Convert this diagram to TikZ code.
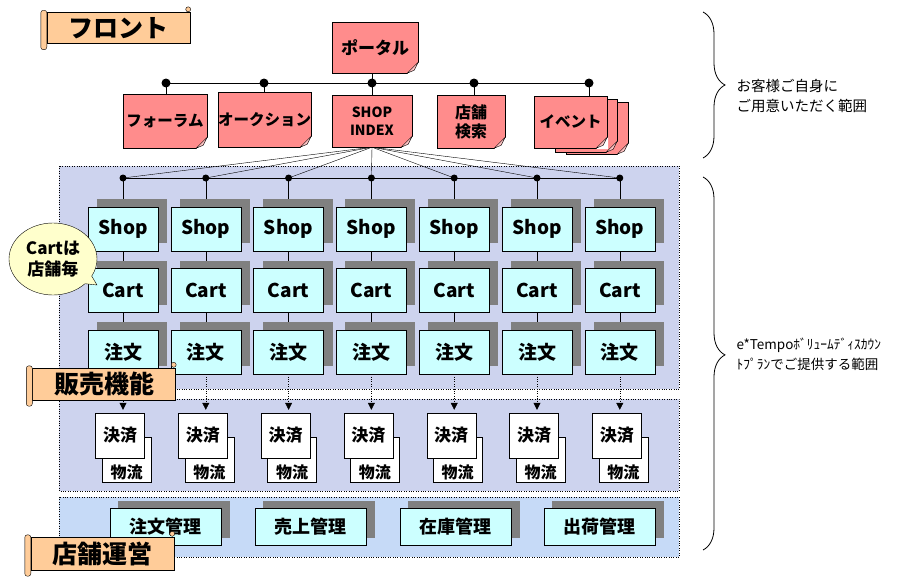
\documentclass[tikz,border=0pt]{standalone}
\usepackage{fontspec}
\newfontfamily\jp{Noto Sans CJK JP}
\usetikzlibrary{shadows,shapes.callouts,arrows.meta,decorations.pathreplacing}
\definecolor{notepink}{HTML}{FF8C8C}
\definecolor{foldpink}{HTML}{FFC4C4}
\definecolor{scroll}{HTML}{FFCC99}
\definecolor{boxcyan}{HTML}{CCFFFF}
\definecolor{shade}{HTML}{808080}
\definecolor{memo}{HTML}{FFFFCC}
\definecolor{dotblue}{HTML}{CDD3EE}
\definecolor{dotsky}{HTML}{C6DAF7}
\pgfdeclarelayer{back}
\pgfdeclarelayer{wires}
\pgfsetlayers{back,wires,main}

% curled corner of a pink note
\newcommand\notefold[2]{%
  \fill[#2] ([xshift=1pt,yshift=-1pt]#1.south east) -- ([xshift=-11pt,yshift=-1pt]#1.south east)
    -- ([xshift=1pt,yshift=11pt]#1.south east) -- cycle;
  \filldraw[fill=foldpink] ([xshift=-11pt]#1.south east) -- ([yshift=11pt]#1.south east)
    -- ([xshift=-4pt,yshift=3pt]#1.south east) -- cycle;
}

\tikzset{
  note/.style={draw, fill=notepink, inner sep=0pt, align=center,
    font=\jp\bfseries\fontsize{15.5}{18}\selectfont},
  unit/.style={draw, fill=boxcyan, inner sep=0pt, minimum width=70pt, minimum height=44pt,
    font=\jp\bfseries\fontsize{19}{22}\selectfont,
    general shadow={fill=shade, shadow xshift=9pt, shadow yshift=8pt}},
  mgmt/.style={unit, minimum width=111pt, minimum height=37pt,
    font=\jp\bfseries\fontsize{18}{22}\selectfont,
    general shadow={fill=shade, shadow xshift=8pt, shadow yshift=8pt}},
  slip/.style={draw, fill=white, inner sep=0pt, minimum width=49pt, minimum height=45pt,
    font=\jp\bfseries\fontsize{17}{20}\selectfont},
  banner/.style={draw, fill=scroll, inner sep=0pt, minimum width=143pt, minimum height=31pt,
    font=\jp\bfseries\fontsize{25}{28}\selectfont},
  brnote/.style={anchor=west, align=left},
  joint/.style={fill=black},
}

\begin{document}
\begin{tikzpicture}[x=1pt, y=-1pt, line width=0.9pt]
\useasboundingbox (0,0) rectangle (907,578);

% areas
\begin{pgfonlayer}{back}
\fill[white] (0,0) rectangle (907,578);
\filldraw[fill=dotblue, dotted] (59,166) rectangle (679,389);
\filldraw[fill=dotblue, dotted] (59,399) rectangle (679,491);
\filldraw[fill=dotsky, dotted] (59,497) rectangle (679,557);
\end{pgfonlayer}

% front pages
\node[note, minimum width=86pt, minimum height=51pt, font=\jp\bfseries\fontsize{17}{20}\selectfont] (portal) at (375,47.5) {ポータル};
\node[note, minimum width=84pt, minimum height=54pt] (forum) at (165,121) {フォーラム};
\node[note, minimum width=87pt, minimum height=55pt] (auction) at (264.5,119.5) {オークション};
\node[note, minimum width=80pt, minimum height=52pt, font=\jp\bfseries\fontsize{14}{18}\selectfont] (sidx) at (372,121) {SHOP\\INDEX};
\node[note, minimum width=68pt, minimum height=53pt, font=\jp\bfseries\fontsize{16}{19}\selectfont] (shopfind) at (471,121.5) {店舗\\検索};
\node[note, minimum width=62pt, minimum height=52pt] (eventc) at (597,128) {};
\notefold{eventc}{white}
\node[note, minimum width=62pt, minimum height=53pt] (eventb) at (586,125.5) {};
\notefold{eventb}{notepink}
\node[note, minimum width=73pt, minimum height=52pt] (event) at (570.5,122) {イベント};
\foreach \n in {portal,forum,auction,sidx,shopfind,event}{\notefold{\n}{white}}

\coordinate (t1) at (166,83);
\coordinate (t2) at (264,83);
\coordinate (t3) at (372,83);
\coordinate (t4) at (474,83);
\coordinate (t5) at (589,83);

% shop columns
\foreach \i in {1,...,7}{
  \pgfmathsetmacro\cx{123+82.8*(\i-1)}
  \coordinate (d\i) at (\cx,178);
  \node[unit] (shop\i) at (\cx,229) {Shop};
  \node[unit] (cart\i) at (\cx,290.5) {Cart};
  \node[unit] (chu\i) at (\cx,352) {注文};
  \node[slip, text height=41.5pt, text depth=3.5pt, font=\jp\bfseries\fontsize{16}{18}\selectfont] (but\i) at (\cx+3.5,459.5) {物流};
  \node[slip] (kes\i) at (\cx-3,435.5) {決済};
  \draw[dotted, -{Triangle[length=7pt,width=7pt]}, shorten >=3pt] (chu\i.south) -- (chu\i.south |- kes\i.north);
  \fill[joint] (d\i) circle (3.5pt);
}

% management
\node[mgmt] (mg1) at (165.5,527) {注文管理};
\node[mgmt] (mg2) at (310.5,527) {売上管理};
\node[mgmt] (mg3) at (455.5,527) {在庫管理};
\node[mgmt] (mg4) at (599.5,527) {出荷管理};

% connectors
\begin{pgfonlayer}{wires}
\draw (t1) -- (t5);
\draw (t3 |- portal.south) -- (t3);
\foreach \t/\n in {t1/forum,t2/auction,t3/sidx,t4/shopfind,t5/event}{
  \draw (\t) -- (\t |- \n.north);
}
\draw (d1) -- (d7);
\foreach \i in {1,...,7}{
  \draw (sidx.south) -- (d\i);
  \draw (d\i) -- (chu\i.center);
}
\end{pgfonlayer}
\foreach \t in {t1,t2,t3,t4,t5}{\fill[joint] (\t) circle (4.5pt);}

\node[ellipse callout, draw, fill=memo, minimum width=88pt, minimum height=72pt, inner sep=0pt,
  callout absolute pointer={(97,285)}, align=center,
  font=\jp\bfseries\fontsize{17}{21}\selectfont] (memo) at (53,259) {Cartは\\店舗毎};

% scrolls
\node[banner] (front) at (118.5,28) {フロント};
\node[banner, minimum height=32pt] (sales) at (104,384) {販売機能};
\node[banner, minimum height=33pt] (store) at (102.5,553.5) {店舗運営};
\foreach \b in {front,sales,store}{
  \draw[fill=scroll, rounded corners=2.5pt] ([xshift=-6pt,yshift=2pt]\b.north west) rectangle ([yshift=-6pt]\b.south west);
  \draw[fill=scroll] ([xshift=-2pt,yshift=3pt]\b.north east) circle (2.5pt);
}

% ranges
\coordinate (b1s) at (703,12);
\coordinate (b1e) at (703,158);
\coordinate (b2s) at (703,177);
\coordinate (b2e) at (703,550);
\draw[line width=0.8pt, decorate, decoration={brace, amplitude=22pt}] (b1s) -- (b1e);
\draw[line width=0.8pt, decorate, decoration={brace, amplitude=22pt, aspect=0.477}] (b2s) -- (b2e);
\node[brnote, font=\jp\fontsize{14.5}{20}\selectfont] (own) at (733,96) {お客様ご自身に\\ご用意いただく範囲};
\node[brnote, font=\jp\fontsize{13.5}{20}\selectfont] (plan) at (733,354) {e*Tempoﾎﾞﾘｭｰﾑﾃﾞｨｽｶｳﾝ\\ﾄﾌﾟﾗﾝでご提供する範囲};

\end{tikzpicture}
\end{document}
